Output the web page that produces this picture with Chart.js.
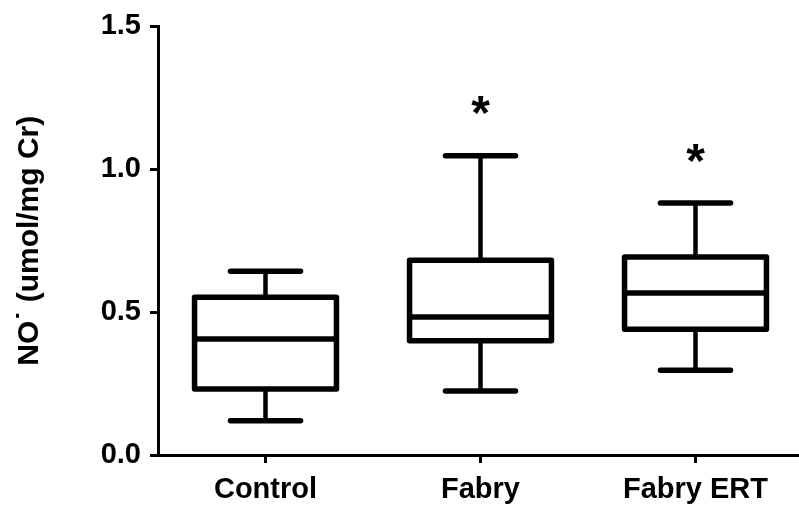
<!DOCTYPE html>
<html>
<head>
<meta charset="utf-8">
<script src="https://cdn.jsdelivr.net/npm/chart.js@4"></script>
<style>
  html, body { margin: 0; padding: 0; background: #fff; overflow: hidden; width: 799px; height: 512px; }
  canvas { display: block; }
</style>
</head>
<body>
<canvas id="c" width="803" height="512"></canvas>
<script>
// ---- Data ----
const categories   = ['Control', 'Fabry', 'Fabry ERT'];
const whiskerLow   = [0.120, 0.224, 0.297];
const quartile1    = [0.231, 0.400, 0.440];
const medians      = [0.406, 0.483, 0.567];
const quartile3    = [0.552, 0.682, 0.693];
const whiskerHigh  = [0.643, 1.047, 0.882];
const significance = ['', '*', '*'];
const yTicks       = [0, 0.5, 1.0, 1.5];

const FONT = '"Liberation Sans", Arial, Helvetica, sans-serif';

const boxPlugin = {
  id: 'boxPlot',
  afterDatasetsDraw(chart) {
    const ctx = chart.ctx;
    const y = chart.scales.y;
    const meta = chart.getDatasetMeta(0);
    const catW = chart.scales.x.width / categories.length;
    const boxHalf = catW * 0.33;
    const capHalf = catW * 0.163;
    ctx.save();
    ctx.strokeStyle = '#000';
    ctx.fillStyle = '#000';
    meta.data.forEach((bar, i) => {
      const cx = bar.x;
      const yQ1 = y.getPixelForValue(quartile1[i]);
      const yQ3 = y.getPixelForValue(quartile3[i]);
      const yMed = y.getPixelForValue(medians[i]);
      const yLo = y.getPixelForValue(whiskerLow[i]);
      const yHi = y.getPixelForValue(whiskerHigh[i]);
      // whisker stems
      ctx.lineWidth = 4.5;
      ctx.lineCap = 'butt';
      ctx.beginPath();
      ctx.moveTo(cx, yQ3); ctx.lineTo(cx, yHi);
      ctx.moveTo(cx, yQ1); ctx.lineTo(cx, yLo);
      ctx.stroke();
      // caps
      ctx.lineWidth = 5.5;
      ctx.lineCap = 'round';
      ctx.beginPath();
      ctx.moveTo(cx - capHalf, yHi); ctx.lineTo(cx + capHalf, yHi);
      ctx.moveTo(cx - capHalf, yLo); ctx.lineTo(cx + capHalf, yLo);
      ctx.stroke();
      // box
      ctx.lineWidth = 5.5;
      ctx.lineJoin = 'round';
      ctx.beginPath();
      ctx.rect(cx - boxHalf, yQ3, boxHalf * 2, yQ1 - yQ3);
      ctx.stroke();
      // median
      ctx.lineCap = 'butt';
      ctx.beginPath();
      ctx.moveTo(cx - boxHalf, yMed); ctx.lineTo(cx + boxHalf, yMed);
      ctx.stroke();
      // significance mark
      if (significance[i]) {
        const size = 48;
        ctx.font = 'bold ' + size + 'px ' + FONT;
        ctx.textAlign = 'center';
        ctx.textBaseline = 'alphabetic';
        ctx.fillText(significance[i], cx, yHi - 54 + size * 0.575);
      }
    });
    ctx.restore();
  }
};

new Chart(document.getElementById('c'), {
  type: 'bar',
  data: {
    labels: categories,
    datasets: [{
      data: categories.map((_, i) => [quartile1[i], quartile3[i]]),
      backgroundColor: 'rgba(0,0,0,0)',
      borderWidth: 0,
      barPercentage: 0.66,
      categoryPercentage: 1.0
    }]
  },
  options: {
    responsive: false,
    animation: false,
    events: [],
    layout: { padding: { top: 26, left: 0, right: 0, bottom: 0 } },
    plugins: { legend: { display: false }, tooltip: { enabled: false } },
    scales: {
      x: {
        offset: true,
        grid: { display: true, drawOnChartArea: false, drawTicks: true, offset: false,
                tickLength: 8, tickWidth: 3, tickColor: '#000' },
        border: { display: true, color: '#000', width: 3 },
        ticks: { color: '#000', padding: 10, font: { family: FONT, size: 29, weight: 'bold' } },
        afterFit: s => { s.height = 57; }
      },
      y: {
        min: 0, max: 1.5,
        afterBuildTicks: s => { s.ticks = yTicks.map(v => ({ value: v })); },
        grid: { display: true, drawOnChartArea: false, drawTicks: true,
                tickLength: 8, tickWidth: 3, tickColor: '#000' },
        border: { display: true, color: '#000', width: 3 },
        ticks: { color: '#000', padding: 9, font: { family: FONT, size: 29, weight: 'bold' },
                 callback: v => Number(v).toFixed(1) },
        title: { display: true, text: 'NO\u02D9 (umol/mg Cr)', color: '#000',
                 font: { family: FONT, size: 30, weight: 'bold' }, padding: { top: 12, bottom: 0 } },
        afterFit: s => { s.width = 158; }
      }
    }
  },
  plugins: [boxPlugin]
});
</script>
</body>
</html>
